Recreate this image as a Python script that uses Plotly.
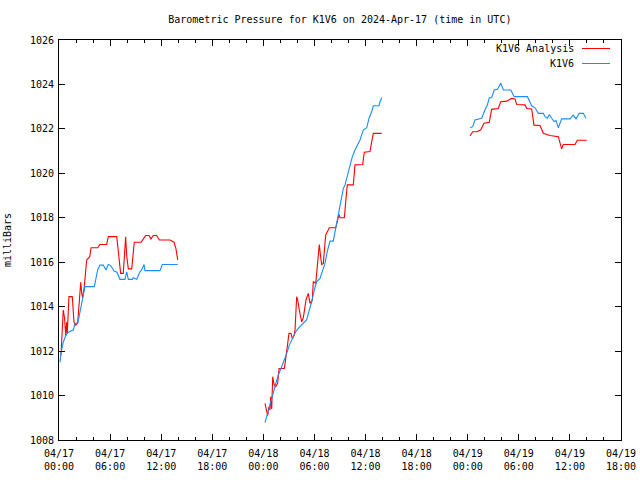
import pandas as pd
import plotly.graph_objects as go

# ---- data (hours since 2024-04-17 00:00 UTC, pressure in mb) ----
BASE = "2024-04-17 00:00"

analysis_hours_1 = [0.23, 0.50, 0.65, 0.79, 0.90, 0.97, 1.17, 1.56, 1.76, 1.96, 2.20, 2.43, 2.55, 2.67,
                    2.78, 2.97, 3.14, 3.25, 3.61, 3.76, 4.54, 4.81, 5.60, 5.79, 6.78, 7.24, 7.55, 7.83,
                    7.95, 8.14, 8.54, 8.66, 8.84, 9.63, 9.90, 10.18, 10.57, 10.80, 11.07, 11.47, 11.78,
                    13.04, 13.51, 13.74, 13.94]
analysis_vals_1 = [1011.8, 1013.85, 1013.5, 1012.7, 1013.3, 1012.8, 1014.45, 1014.45, 1013.3, 1013.15,
                   1013.3, 1014.75, 1015.1, 1014.6, 1014.4, 1014.9, 1015.7, 1016.1, 1016.25, 1016.65,
                   1016.65, 1016.8, 1016.8, 1017.15, 1017.15, 1015.5, 1015.5, 1017.15, 1016.3, 1015.7,
                   1015.7, 1016.3, 1016.9, 1016.9, 1017.05, 1017.2, 1017.2, 1017.05, 1017.2, 1017.2,
                   1017.0, 1017.0, 1016.9, 1016.6, 1016.1]

analysis_hours_2 = [24.19, 24.39, 24.51, 24.66, 24.78, 24.86, 24.98, 25.10, 25.25, 25.45, 25.68, 25.84,
                    26.46, 26.55, 26.67, 26.81, 27.01, 27.24, 27.40, 27.60, 27.72, 27.91, 28.03, 28.22,
                    28.50, 28.69, 28.89, 29.01, 29.28, 29.48, 29.75, 29.86, 30.15, 30.33, 30.45, 30.57,
                    30.77, 30.85, 31.04, 31.16, 31.32, 31.56, 31.74, 32.50, 32.73, 32.88, 33.00, 33.51,
                    33.67, 33.86, 34.56, 34.76, 35.67, 35.85, 36.52, 36.72, 36.91, 37.90]
analysis_vals_2 = [1009.65, 1009.2, 1009.1, 1009.5, 1009.35, 1009.95, 1009.4, 1010.85, 1010.5, 1010.4,
                   1010.55, 1011.22, 1011.22, 1011.45, 1011.8, 1012.2, 1012.8, 1012.8, 1012.57, 1012.7,
                   1012.95, 1014.45, 1014.3, 1013.85, 1013.32, 1013.5, 1013.93, 1014.3, 1014.6, 1014.15,
                   1014.3, 1015.13, 1015.05, 1015.95, 1016.55, 1016.8, 1016.1, 1015.9, 1015.95, 1016.62,
                   1017.22, 1017.4, 1017.55, 1017.55, 1017.9, 1018.15, 1018.0, 1018.0, 1018.72, 1019.48,
                   1019.48, 1020.38, 1020.4, 1020.95, 1020.98, 1021.42, 1021.8, 1021.8]

analysis_hours_3 = [48.27, 48.58, 49.05, 49.52, 49.91, 50.53, 50.81, 51.59, 51.87, 52.58, 53.16, 53.55,
                    53.75, 54.73, 54.93, 55.51, 55.78, 56.49, 56.88, 57.66, 58.64, 58.84, 59.03, 59.22,
                    60.60, 60.87, 61.97]
analysis_vals_3 = [1021.68, 1021.87, 1021.87, 1021.95, 1022.25, 1022.3, 1022.88, 1022.92, 1023.22,
                   1023.25, 1023.37, 1023.35, 1023.1, 1023.08, 1022.92, 1022.9, 1022.17, 1022.15, 1021.8,
                   1021.7, 1021.65, 1021.35, 1021.1, 1021.3, 1021.3, 1021.49, 1021.49]

obs_hours_1 = [0.12, 0.23, 0.50, 0.79, 1.09, 1.68, 1.88, 2.20, 2.47, 2.78, 3.05, 4.15, 4.35, 4.54, 4.81,
               5.20, 5.52, 5.79, 6.07, 6.46, 6.81, 7.16, 7.75, 7.95, 8.14, 8.61, 8.73, 9.13, 9.51, 9.71,
               9.98, 10.10, 11.86, 12.13, 13.94]
obs_vals_1 = [1011.5, 1011.9, 1012.4, 1012.7, 1012.85, 1012.95, 1013.25, 1013.25, 1013.77, 1014.3,
              1014.9, 1014.9, 1015.27, 1015.65, 1015.87, 1015.87, 1015.65, 1015.9, 1015.85, 1015.6,
              1015.55, 1015.23, 1015.23, 1015.57, 1015.23, 1015.23, 1015.3, 1015.23, 1015.57, 1015.65,
              1015.9, 1015.62, 1015.62, 1015.9, 1015.9]

obs_hours_2 = [24.19, 24.51, 24.78, 25.05, 25.36, 25.68, 26.07, 26.46, 26.74, 27.05, 27.40, 27.80, 28.10,
               28.50, 28.80, 29.08, 29.40, 29.68, 29.98, 30.26, 30.65, 30.85, 31.20, 31.55, 31.83, 32.21,
               32.50, 32.80, 33.12, 33.39, 33.59, 33.90, 34.17, 34.45, 34.76, 35.08, 35.35, 35.74, 36.14,
               36.41, 36.72, 36.91, 37.58, 37.70, 37.90]
obs_vals_2 = [1008.78, 1009.2, 1009.5, 1009.95, 1010.4, 1010.85, 1011.22, 1011.6, 1011.9, 1012.27,
              1012.57, 1012.87, 1013.02, 1013.17, 1013.25, 1013.4, 1013.85, 1014.22, 1014.75, 1015.13,
              1015.27, 1015.5, 1015.9, 1016.55, 1016.95, 1016.95, 1017.52, 1018.12, 1018.8, 1019.32,
              1019.48, 1019.92, 1020.3, 1020.75, 1021.05, 1021.27, 1021.5, 1021.95, 1022.05, 1022.48,
              1022.77, 1023.04, 1023.04, 1023.22, 1023.4]

obs_hours_3 = [48.27, 48.58, 48.85, 49.64, 50.02, 50.30, 50.53, 50.81, 51.11, 51.50, 51.87, 52.20, 53.06,
               53.45, 55.01, 55.51, 55.90, 56.29, 56.88, 57.07, 57.35, 57.58, 57.86, 58.13, 58.37, 58.64,
               59.03, 60.01, 60.40, 60.72, 61.10, 61.57, 61.89]
obs_vals_3 = [1022.05, 1022.1, 1022.4, 1022.48, 1022.85, 1023.07, 1023.4, 1023.4, 1023.75, 1023.78,
              1024.05, 1023.75, 1023.75, 1023.45, 1023.45, 1023.04, 1022.95, 1022.7, 1022.7, 1022.55,
              1022.48, 1022.65, 1022.48, 1022.33, 1022.38, 1022.05, 1022.45, 1022.45, 1022.62, 1022.45,
              1022.7, 1022.7, 1022.48]

tick_hours = [0, 6, 12, 18, 24, 30, 36, 42, 48, 54, 60, 66]
tick_labels = ["04/17<br>00:00", "04/17<br>06:00", "04/17<br>12:00", "04/17<br>18:00",
               "04/18<br>00:00", "04/18<br>06:00", "04/18<br>12:00", "04/18<br>18:00",
               "04/19<br>00:00", "04/19<br>06:00", "04/19<br>12:00", "04/19<br>18:00"]

series_names = ["K1V6 Analysis", "K1V6"]
series_colors = ["#ff0000", "#1a8cff"]

TITLE = "Barometric Pressure for K1V6 on 2024-Apr-17 (time in UTC)"
FONT = "DejaVu Sans Mono"


def to_time(hours):
    return [pd.Timestamp(BASE) + pd.Timedelta(hours=h) for h in hours]


def join(segments_h, segments_v):
    xs, ys = [], []
    for i, (h, v) in enumerate(zip(segments_h, segments_v)):
        if i:
            xs.append(None)
            ys.append(None)
        xs.extend(to_time(h))
        ys.extend(v)
    return xs, ys


ax, ay = join([analysis_hours_1, analysis_hours_2, analysis_hours_3],
              [analysis_vals_1, analysis_vals_2, analysis_vals_3])
ox, oy = join([obs_hours_1, obs_hours_2, obs_hours_3],
              [obs_vals_1, obs_vals_2, obs_vals_3])

fig = go.Figure()
fig.add_trace(go.Scatter(x=ax, y=ay, mode="lines", name=series_names[0],
                         line=dict(color=series_colors[0], width=1.1), connectgaps=False))
fig.add_trace(go.Scatter(x=ox, y=oy, mode="lines", name=series_names[1],
                         line=dict(color=series_colors[1], width=1.1), connectgaps=False))

# gnuplot-style legend: right-aligned text with the line sample to its right
for i, (name, color) in enumerate(zip(series_names, series_colors)):
    ypos = 1 - (8.5 + 15 * i) / 400
    fig.add_annotation(xref="paper", yref="paper", x=(576 - 59) / 562, y=ypos,
                       text=name, showarrow=False, xanchor="right", yanchor="middle",
                       font=dict(family=FONT, size=10, color="black"))
    fig.add_shape(type="line", xref="paper", yref="paper",
                  x0=(582 - 59) / 562, x1=(610 - 59) / 562, y0=ypos, y1=ypos,
                  line=dict(color=color, width=1))

fig.update_layout(
    width=640, height=480,
    margin=dict(l=59, r=19, t=40, b=40, autoexpand=False),
    paper_bgcolor="white", plot_bgcolor="white",
    showlegend=False,
    font=dict(family=FONT, size=10, color="black"),
    title=dict(text=TITLE, x=0.531, xanchor="center", y=1 - 19 / 480, yanchor="middle",
               xref="container", yref="container",
               font=dict(family=FONT, size=10, color="black")),
)

fig.update_xaxes(
    type="date", automargin=False,
    range=[pd.Timestamp(BASE), pd.Timestamp(BASE) + pd.Timedelta(hours=66)],
    tickvals=to_time(tick_hours), ticktext=tick_labels,
    showgrid=False, zeroline=False,
    showline=True, linecolor="black", linewidth=1, mirror="ticks",
    ticks="inside", ticklen=6, tickcolor="black", tickwidth=1,
    minor=dict(dtick=2 * 3600 * 1000, ticks="inside", ticklen=3, tickcolor="black", tickwidth=1,
               showgrid=False),
    tickfont=dict(family=FONT, size=10),
    ticklabelstandoff=4,
)
fig.update_yaxes(
    automargin=False,
    range=[1008, 1026], dtick=2, tick0=1008,
    showgrid=False, zeroline=False,
    showline=True, linecolor="black", linewidth=1, mirror="ticks",
    ticks="inside", ticklen=6, tickcolor="black", tickwidth=1,
    tickfont=dict(family=FONT, size=10),
    ticklabelstandoff=2,
    title=dict(text="milliBars", font=dict(family=FONT, size=10), standoff=16),
)

fig.write_html("out.html", config={"displayModeBar": False},
               post_script="document.body.style.margin='0';document.body.style.overflow='hidden';")
